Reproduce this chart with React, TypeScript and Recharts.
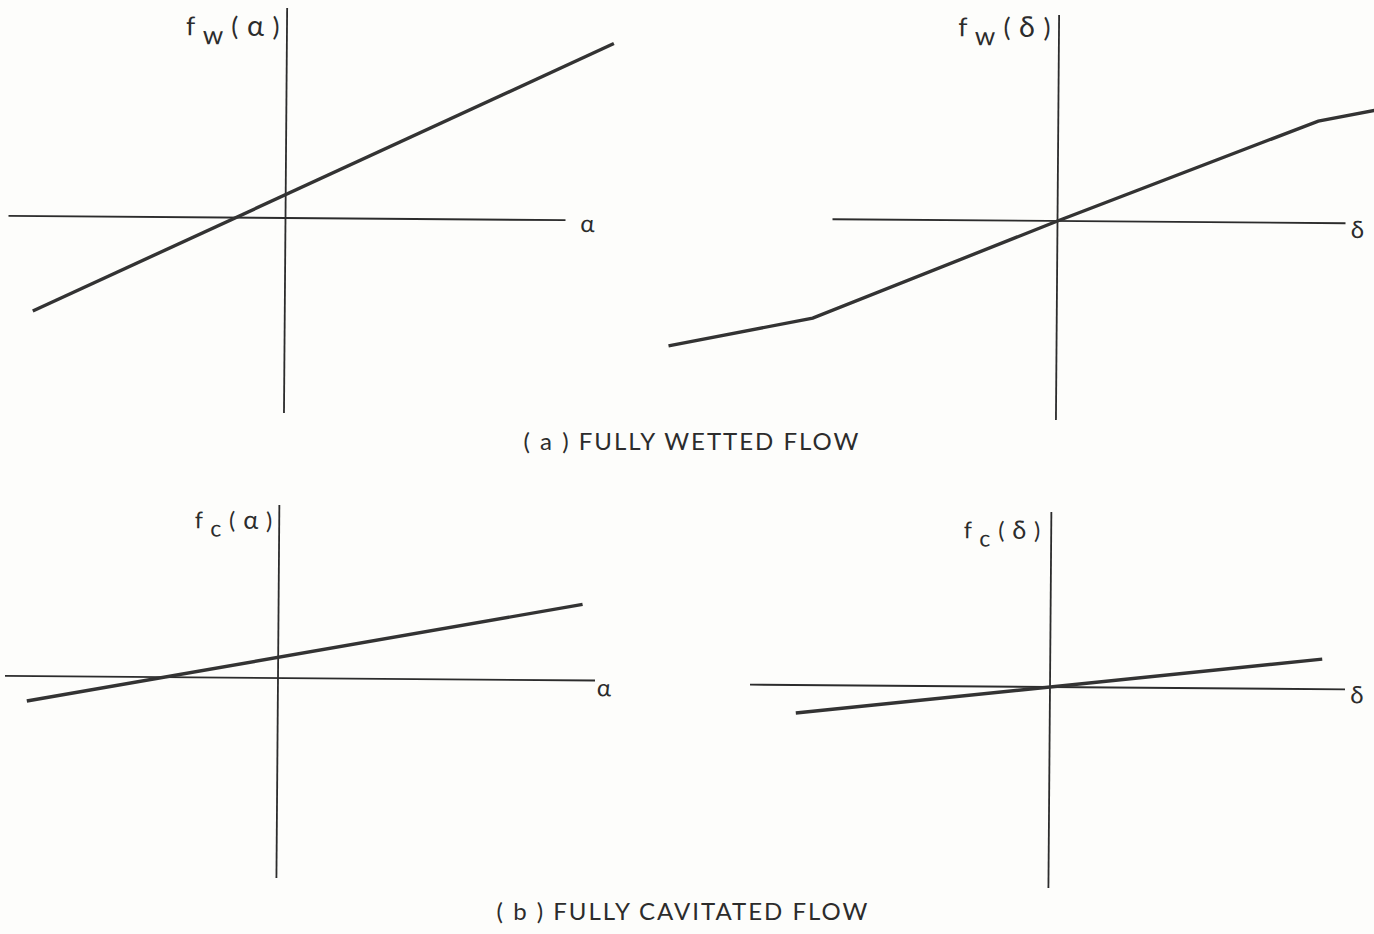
import React from 'react'
import { LineChart, Line, XAxis, YAxis, ReferenceLine } from 'recharts'

const PX = 100 // pixels per unit, same on every panel

// (a) fully wetted flow
const wetAlphaX = [-2.52, 3.27]
const wetAlphaY = [-0.95, 1.77]
const wetDeltaX = [-3.88, -2.44, 0, 2.6, 3.16]
const wetDeltaY = [-1.28, -0.99, 0, 1.02, 1.13]

// (b) fully cavitated flow
const cavAlphaX = [-2.51, 3.04]
const cavAlphaY = [-0.25, 0.76]
const cavDeltaX = [-2.54, 2.72]
const cavDeltaY = [-0.28, 0.3]

const captions = ['( a ) FULLY WETTED FLOW', '( b ) FULLY CAVITATED FLOW']

const INK = '#2c2c2c'
const FONT = 'Lato, "Open Sans", "DejaVu Sans", sans-serif'
const TILT = 0.45 // the scanned sheet sits a little crooked

interface PanelProps {
  left: number
  top: number
  width: number
  height: number
  ox: number
  oy: number
  hAxis: [number, number]
  vAxis: [number, number]
  xs: number[]
  ys: number[]
  sub: string
  arg: string
  symbol: string
  symAt: [number, number]
  titleRight: number
  titleTop: number
  titleSize: number
}

function Panel(p: PanelProps) {
  const ox = p.ox - p.left
  const oy = p.oy - p.top
  const xDom = [-ox / PX, (p.width - ox) / PX]
  const yDom = [-(p.height - oy) / PX, oy / PX]
  const data = p.xs.map((x, i) => ({ x, y: p.ys[i] }))
  return (
    <div
      style={{
        position: 'absolute', left: p.left, top: p.top, width: p.width, height: p.height,
        transform: `rotate(${TILT}deg)`, transformOrigin: `${ox}px ${oy}px`,
      }}
    >
      <LineChart width={p.width} height={p.height} data={data} margin={{ top: 0, right: 0, bottom: 0, left: 0 }}>
        <XAxis type="number" dataKey="x" domain={xDom} hide allowDataOverflow />
        <YAxis type="number" domain={yDom} hide allowDataOverflow />
        <ReferenceLine segment={[{ x: p.hAxis[0], y: 0 }, { x: p.hAxis[1], y: 0 }]} stroke={INK} strokeWidth={1.8} />
        <ReferenceLine segment={[{ x: 0, y: p.vAxis[0] }, { x: 0, y: p.vAxis[1] }]} stroke={INK} strokeWidth={1.8} />
        <Line type="linear" dataKey="y" stroke="#333" strokeWidth={3.4} dot={false} isAnimationActive={false} />
      </LineChart>
      <span
        style={{
          position: 'absolute', right: p.width - (p.titleRight - p.left), top: p.titleTop - p.top,
          fontFamily: FONT, fontSize: p.titleSize, lineHeight: 1, color: INK, whiteSpace: 'pre', letterSpacing: 1,
        }}
      >
        f<span style={{ position: 'relative', top: '0.35em' }}> {p.sub}</span>
        {' ( '}<span style={{ fontSize: '1.1em' }}>{p.arg}</span>{' )'}
      </span>
      <span
        style={{
          position: 'absolute', left: ox + p.symAt[0] * PX, top: oy - p.symAt[1] * PX,
          transform: 'translate(-50%, -55%)', fontFamily: FONT, fontSize: 24, lineHeight: 1, color: INK,
        }}
      >
        {p.symbol}
      </span>
    </div>
  )
}

export default function App() {
  return (
    <div style={{ position: 'absolute', left: 0, top: 0, width: 1374, height: 934, background: '#fdfdfb', overflow: 'hidden' }}>
      <Panel
        left={0} top={0} width={640} height={430} ox={285.5} oy={218}
        hAxis={[-2.77, 2.8]} vAxis={[-1.95, 2.1]} xs={wetAlphaX} ys={wetAlphaY}
        sub="w" arg="α" symbol="α" symAt={[3.02, -0.04]}
        titleRight={279} titleTop={11} titleSize={26}
      />
      <Panel
        left={650} top={0} width={724} height={430} ox={1057.5} oy={221}
        hAxis={[-2.25, 2.88]} vAxis={[-1.99, 2.06]} xs={wetDeltaX} ys={wetDeltaY}
        sub="w" arg="δ" symbol="δ" symAt={[3.0, -0.07]}
        titleRight={1050} titleTop={12} titleSize={26}
      />
      <Panel
        left={0} top={480} width={640} height={420} ox={278} oy={678}
        hAxis={[-2.73, 3.17]} vAxis={[-2.0, 1.73]} xs={cavAlphaX} ys={cavAlphaY}
        sub="c" arg="α" symbol="α" symAt={[3.26, -0.08]}
        titleRight={272} titleTop={507} titleSize={23}
      />
      <Panel
        left={700} top={480} width={674} height={420} ox={1050} oy={687}
        hAxis={[-3.0, 2.95]} vAxis={[-2.01, 1.75]} xs={cavDeltaX} ys={cavDeltaY}
        sub="c" arg="δ" symbol="δ" symAt={[3.07, -0.06]}
        titleRight={1040} titleTop={517} titleSize={23}
      />
      <svg width={1374} height={934} style={{ position: 'absolute', left: 0, top: 0, pointerEvents: 'none' }}>
        <text x={692} y={450} textAnchor="middle" fontFamily={FONT} fontSize={24} letterSpacing={2} fill={INK} style={{ whiteSpace: 'pre' }}>
          {captions[0]}
        </text>
        <text x={683} y={920} textAnchor="middle" fontFamily={FONT} fontSize={24} letterSpacing={2} fill={INK} style={{ whiteSpace: 'pre' }}>
          {captions[1]}
        </text>
      </svg>
    </div>
  )
}
